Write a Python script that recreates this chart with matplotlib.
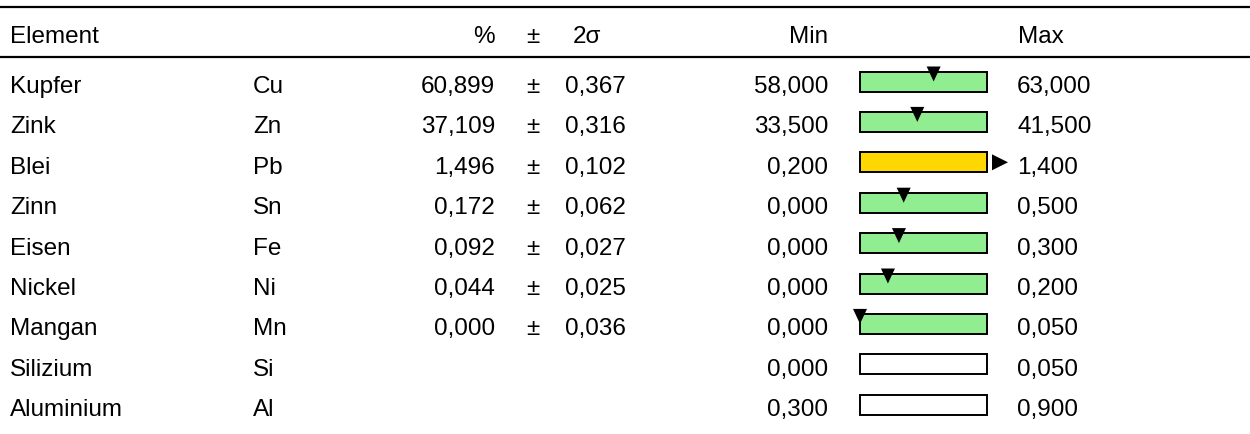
import matplotlib
matplotlib.use("Agg")
import matplotlib.pyplot as plt
from matplotlib.patches import Rectangle, Polygon

plt.rcParams['font.family'] = ['Liberation Sans', 'DejaVu Sans']

# data
names = ["Kupfer", "Zink", "Blei", "Zinn", "Eisen", "Nickel", "Mangan", "Silizium", "Aluminium"]
symbols = ["Cu", "Zn", "Pb", "Sn", "Fe", "Ni", "Mn", "Si", "Al"]
percent = [60.899, 37.109, 1.496, 0.172, 0.092, 0.044, 0.000, None, None]
sigma2 = [0.367, 0.316, 0.102, 0.062, 0.027, 0.025, 0.036, None, None]
mins = [58.0, 33.5, 0.2, 0.0, 0.0, 0.0, 0.0, 0.0, 0.3]
maxs = [63.0, 41.5, 1.4, 0.5, 0.3, 0.2, 0.05, 0.05, 0.9]
headers = ["Element", "%", "±", "2σ", "Min", "Max"]


def de(v):
    return f"{v:.3f}".replace(".", ",")


fig = plt.figure(figsize=(12.5, 4.35), dpi=100)
ax = fig.add_axes([0, 0, 1, 1])
ax.set_xlim(0, 1250)
ax.set_ylim(435, 0)
ax.axis("off")

fs = 17.5
# header (baseline positions)
hy = 43
ax.text(10, hy, headers[0], fontsize=fs, va="baseline", ha="left")
ax.text(495, hy, headers[1], fontsize=fs, va="baseline", ha="right")
ax.text(533, hy, headers[2], fontsize=fs, va="baseline", ha="center")
ax.text(573, hy, headers[3], fontsize=fs, va="baseline", ha="left")
ax.text(828, hy, headers[4], fontsize=fs, va="baseline", ha="right")
ax.text(1018, hy, headers[5], fontsize=fs, va="baseline", ha="left")
ax.plot([0, 1250], [7.5, 7.5], color="black", lw=1.6, solid_capstyle="butt")
ax.plot([0, 1250], [57.5, 57.5], color="black", lw=1.6, solid_capstyle="butt")

bx0, bx1 = 860, 987
bh = 20
for i, name in enumerate(names):
    yb = 93 + i * 40.4
    y = yb - 10.5
    ax.text(10, yb, name, fontsize=fs, va="baseline", ha="left")
    ax.text(253, yb, symbols[i], fontsize=fs, va="baseline", ha="left")
    if percent[i] is not None:
        ax.text(495, yb, de(percent[i]), fontsize=fs, va="baseline", ha="right")
        ax.text(533, yb, "±", fontsize=fs, va="baseline", ha="center")
        ax.text(565, yb, de(sigma2[i]), fontsize=fs, va="baseline", ha="left")
    ax.text(828, yb, de(mins[i]), fontsize=fs, va="baseline", ha="right")
    ax.text(1017, yb, de(maxs[i]), fontsize=fs, va="baseline", ha="left")

    v = percent[i]
    if v is None:
        fc = "white"
    elif v > maxs[i] or v < mins[i]:
        fc = "#FFD700"
    else:
        fc = "#90EE90"
    ax.add_patch(Rectangle((bx0, y - bh / 2), bx1 - bx0, bh, facecolor=fc,
                           edgecolor="black", lw=1.4))
    if v is None:
        continue
    if v > maxs[i]:
        tx = bx1 + 5
        ax.add_patch(Polygon([[tx, y - 8], [tx, y + 8], [tx + 16, y]],
                             closed=True, facecolor="black", edgecolor="none"))
    elif v < mins[i]:
        tx = bx0 - 5
        ax.add_patch(Polygon([[tx, y - 8], [tx, y + 8], [tx - 16, y]],
                             closed=True, facecolor="black", edgecolor="none"))
    else:
        mx = bx0 + (v - mins[i]) / (maxs[i] - mins[i]) * (bx1 - bx0)
        ax.add_patch(Polygon([[mx - 7, y - 15], [mx + 7, y - 15], [mx, y]],
                             closed=True, facecolor="black", edgecolor="none"))

fig.savefig("out.png", dpi=100)
